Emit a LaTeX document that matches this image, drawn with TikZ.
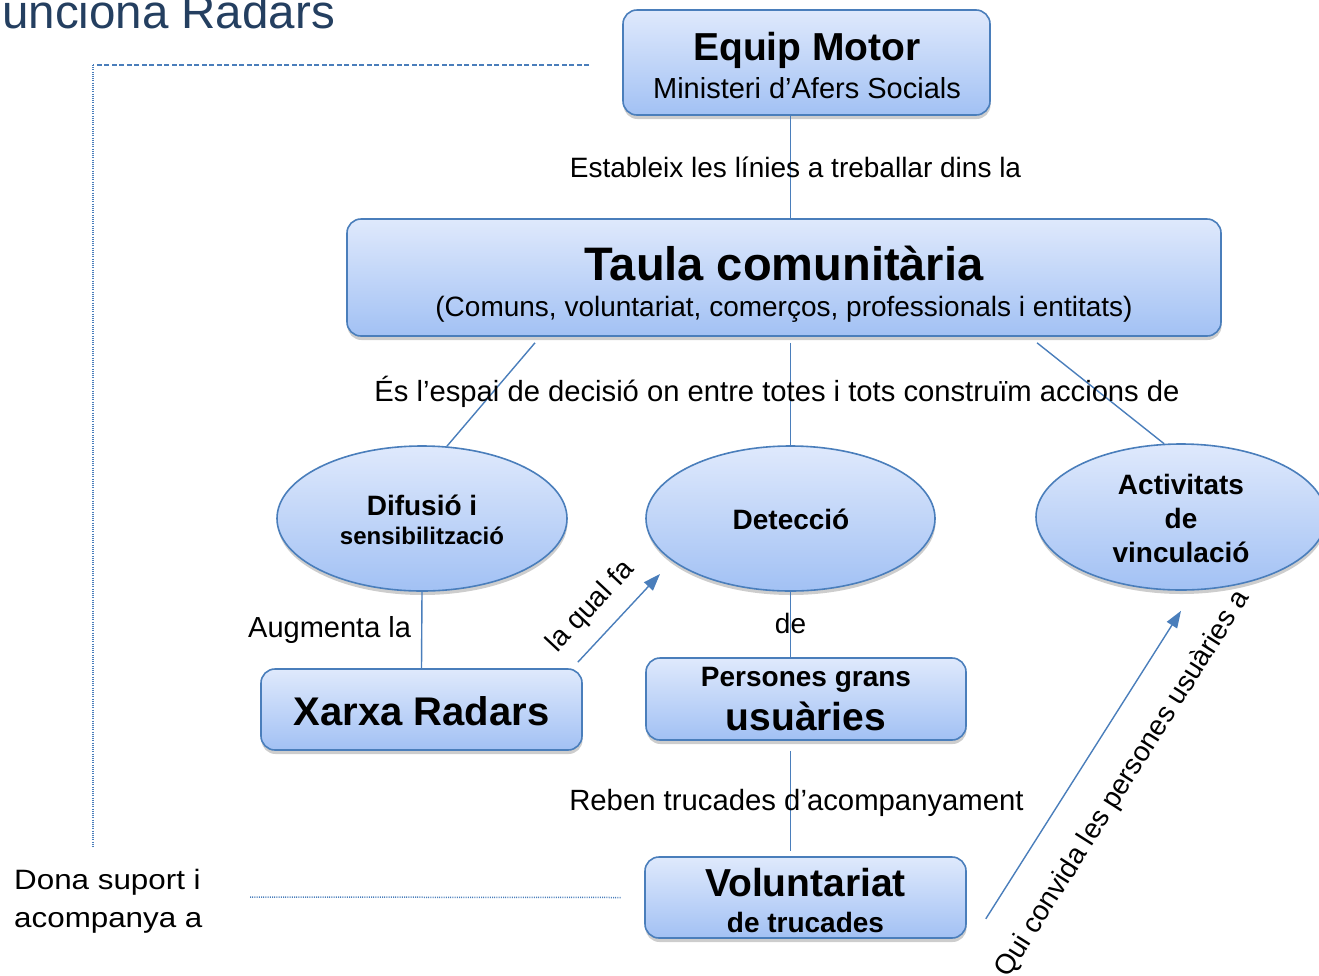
\documentclass[tikz,border=0pt]{standalone}
\usepackage{fontspec}
\setmainfont{Liberation Sans}
\usetikzlibrary{shapes.geometric,arrows.meta,shadows,calc}
\definecolor{lnc}{HTML}{4A7EBB}
\definecolor{boxtop}{HTML}{DFE9FC}
\definecolor{boxbot}{HTML}{A2C1F4}
\definecolor{ttl}{HTML}{243F60}
\newcommand\myfs[1]{\fontsize{#1}{#1}\selectfont}
\begin{document}
\begin{tikzpicture}[x=1pt,y=-1pt,
  shad/.style={drop shadow={shadow xshift=0.5pt, shadow yshift=-4pt, opacity=0.28, fill=black!70}},
  box/.style={draw=lnc, line width=1.6pt, rounded corners=14pt, top color=boxtop, bottom color=boxbot, shad, inner sep=0pt},
  ell/.style={ellipse, draw=lnc, line width=1.6pt, top color=boxtop, bottom color=boxbot, shad, inner sep=0pt},
  conn/.style={draw=lnc, line width=1.4pt},
  arr/.style={conn, -{Triangle[length=17pt,width=12pt]}},
  txt/.style={inner sep=0pt, anchor=base},
  lbl/.style={inner sep=0pt, font=\myfs{28}},
]
\useasboundingbox (0,0) rectangle (1319,975);

% title
\node[txt, anchor=base west, font=\myfs{47.5}, text=ttl] (title) at (2,28) {unciona Radars};

% boxes
\node[box, minimum width=367pt, minimum height=105pt] (em) at (806.5,62.5) {};
\node[box, minimum width=874pt, minimum height=117pt] (tc) at (784,277.5) {};
\node[box, minimum width=321pt, minimum height=81pt] (xr) at (421.5,709.5) {};
\node[box, minimum width=320pt, minimum height=82pt] (pg) at (806,699) {};
\node[box, minimum width=321pt, minimum height=81pt] (vol) at (805.5,897.5) {};

% ellipses
\node[ell, minimum width=290pt, minimum height=145pt] (dif) at (422,518.5) {};
\node[ell, minimum width=289pt, minimum height=145pt] (det) at (790.5,518.5) {};
\node[ell, minimum width=290pt, minimum height=146pt] (act) at (1181,517) {};

% texts inside shapes
\node[txt, font=\bfseries\myfs{39}] (emA) at (807,60) {Equip Motor};
\node[txt, font=\myfs{29}] (emB) at (807,98) {Ministeri d’Afers Socials};
\node[txt, font=\bfseries\myfs{47}] (tcA) at (784,280) {Taula comunitària};
\node[txt, font=\myfs{28}] (tcB) at (784,316) {(Comuns, voluntariat, comerços, professionals i entitats)};
\node[txt, font=\bfseries\myfs{28}] (difA) at (422,515) {Difusió i};
\node[txt, font=\bfseries\myfs{24}] (difB) at (422,544) {sensibilització};
\node[txt, font=\bfseries\myfs{28}] (detA) at (791,529) {Detecció};
\node[txt, font=\bfseries\myfs{28}] (actA) at (1181,494) {Activitats};
\node[txt, font=\bfseries\myfs{28}] (actB) at (1181,528) {de};
\node[txt, font=\bfseries\myfs{28}] (actC) at (1181,562) {vinculació};
\node[txt, font=\bfseries\myfs{40}] (xrA) at (421.5,725) {Xarxa Radars};
\node[txt, font=\bfseries\myfs{28}] (pgA) at (806,686) {Persones grans};
\node[txt, font=\bfseries\myfs{39}] (pgB) at (806,730) {usuàries};
\node[txt, font=\bfseries\myfs{39}] (volA) at (805.5,896) {Voluntariat};
\node[txt, font=\bfseries\myfs{28}] (volB) at (805.5,932) {de trucades};

% connectors
\draw[conn] (em.south -| det.north) -- (tc.north -| det.north)
  node[lbl, midway, xshift=5pt] (l1) {Estableix les línies a treballar dins la};
\draw[conn] ([xshift=-249pt,yshift=-6pt]tc.south) -- (dif.71);
\draw[conn] ([yshift=-6pt]tc.south -| det.north) -- (det.north);
\draw[conn] ([xshift=253pt,yshift=-6pt]tc.south) -- (act.103);
\node[lbl, font=\myfs{29.2}] (l2) at (777,392) {És l’espai de decisió on entre totes i tots construïm accions de};

\draw[conn] (dif.south) -- (xr.north)
  node[lbl, font=\myfs{29}, midway, left=10pt] (l3) {Augmenta la};
\draw[conn] (det.south) -- (pg.north -| det.south)
  node[lbl, midway, yshift=1pt] (l4) {de};
\draw[conn] ([yshift=-10pt]pg.south -| det.south) -- ([yshift=5pt]vol.north -| det.south)
  node[lbl, font=\myfs{29.3}, midway, xshift=6pt, yshift=-2pt] (l5) {Reben trucades d’acompanyament};

\draw[arr] ([xshift=-5pt,yshift=6pt]xr.north east) -- ($(det.center)+(-130.5,55.5)$);
\node[lbl, rotate=47] (l6) at (591,607) {la qual fa};
\draw[arr] ([xshift=19pt,yshift=20pt]vol.south east) -- ([yshift=-20pt]act.south);
\node[lbl, rotate=57.7] (l7) at (1123,784) {Qui convida les persones usuàries a};

% support text and dashed / dotted links
\node[inner sep=0pt, anchor=west, align=left, font=\fontsize{28}{38}\selectfont] (ds) at (14,901)
  {\scalebox{1.12}[1]{Dona suport i}\\\scalebox{1.12}[1]{acompanya a}};
\coordinate (c1) at (93,65);
\coordinate (c2) at (93,848);
\draw[lnc, line width=1.2pt, dash pattern=on 5pt off 2.5pt] ([xshift=-33pt]em.west |- c1) -- (c1);
\draw[lnc, line width=1.5pt, dash pattern=on 1pt off 1.2pt] (c1) -- (c2);
\draw[lnc, line width=1.5pt, dash pattern=on 1pt off 1.2pt] (250,897) -- ([xshift=-23pt]vol.west);
\end{tikzpicture}
\end{document}
